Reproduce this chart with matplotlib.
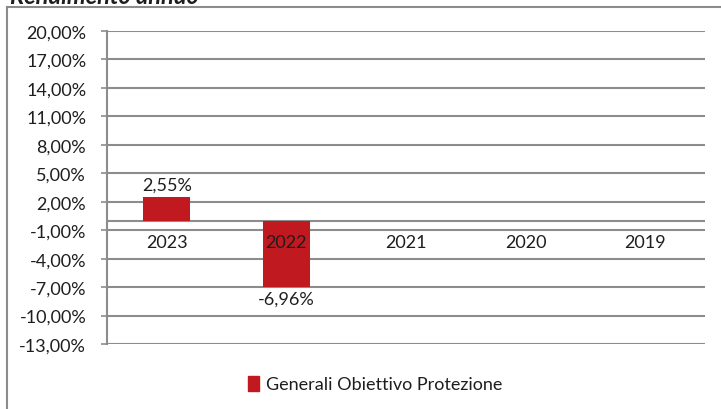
import matplotlib.pyplot as plt
from matplotlib.patches import Patch
from matplotlib.lines import Line2D

years = ["2023", "2022", "2021", "2020", "2019"]
returns = [2.55, -6.96, None, None, None]
series_name = "Generali Obiettivo Protezione"
y_ticks = [20, 17, 14, 11, 8, 5, 2, -1, -4, -7, -10, -13]

bar_color = "#C0191F"
grid_color = "#8c8c8c"
text_color = "#1e1e1e"

plt.rcParams['font.family'] = ['Lato', 'DejaVu Sans']


def pct(v):
    return "{:.2f}%".format(v).replace(".", ",")


fig = plt.figure(figsize=(7.21, 4.10), dpi=100)
ax = fig.add_axes([107 / 721, 1 - 345 / 410, 598 / 721, 313 / 410])

xs = list(range(len(years)))
vals = [v if v is not None else 0 for v in returns]
ax.bar(xs, vals, width=0.39, color=bar_color, zorder=2)

ax.set_xlim(-0.5, len(years) - 0.5)
ax.set_ylim(-13, 20)
ax.set_yticks(y_ticks)
ax.set_yticklabels([pct(t) for t in y_ticks], fontsize=13, color=text_color)
ax.set_xticks([])
ax.grid(axis="y", color=grid_color, linewidth=1.5, zorder=0)
ax.set_axisbelow(True)
# category axis line at zero
ax.axhline(0, color=grid_color, linewidth=1.5, zorder=1)

for s in ["top", "right", "bottom"]:
    ax.spines[s].set_visible(False)
ax.spines["left"].set_color(grid_color)
ax.spines["left"].set_linewidth(1.5)
ax.tick_params(axis="y", length=4, width=1.2, color=grid_color, pad=11)

for x, year in zip(xs, years):
    ax.annotate(year, (x, 0), xytext=(0, -15), textcoords="offset points",
                ha="center", va="center", fontsize=13, color=text_color, zorder=5)

for x, v in zip(xs, returns):
    if v is None:
        continue
    if v >= 0:
        ax.annotate(pct(v), (x, v), xytext=(0, 3), textcoords="offset points",
                    ha="center", va="bottom", fontsize=13, color=text_color)
    else:
        ax.annotate(pct(v), (x, v), xytext=(0, -3), textcoords="offset points",
                    ha="center", va="top", fontsize=13, color=text_color)

fig.legend(handles=[Patch(color=bar_color, label=series_name)],
           loc="center", bbox_to_anchor=(0.52, 0.061), frameon=False,
           handlelength=0.6, handleheight=0.9, handletextpad=0.4,
           fontsize=13, labelcolor=text_color)

# outer chart border
fig.add_artist(Line2D([7 / 721, 7 / 721], [0, 1 - 8 / 410], transform=fig.transFigure,
                      color=grid_color, linewidth=1.5))
fig.add_artist(Line2D([7 / 721, 1], [1 - 8 / 410, 1 - 8 / 410], transform=fig.transFigure,
                      color=grid_color, linewidth=1.5))

fig.text(10 / 721, 1 - 4 / 410, "Rendimento annuo", fontsize=17, weight="bold",
         style="italic", va="baseline", color=text_color)

fig.savefig("out.png", dpi=100)
